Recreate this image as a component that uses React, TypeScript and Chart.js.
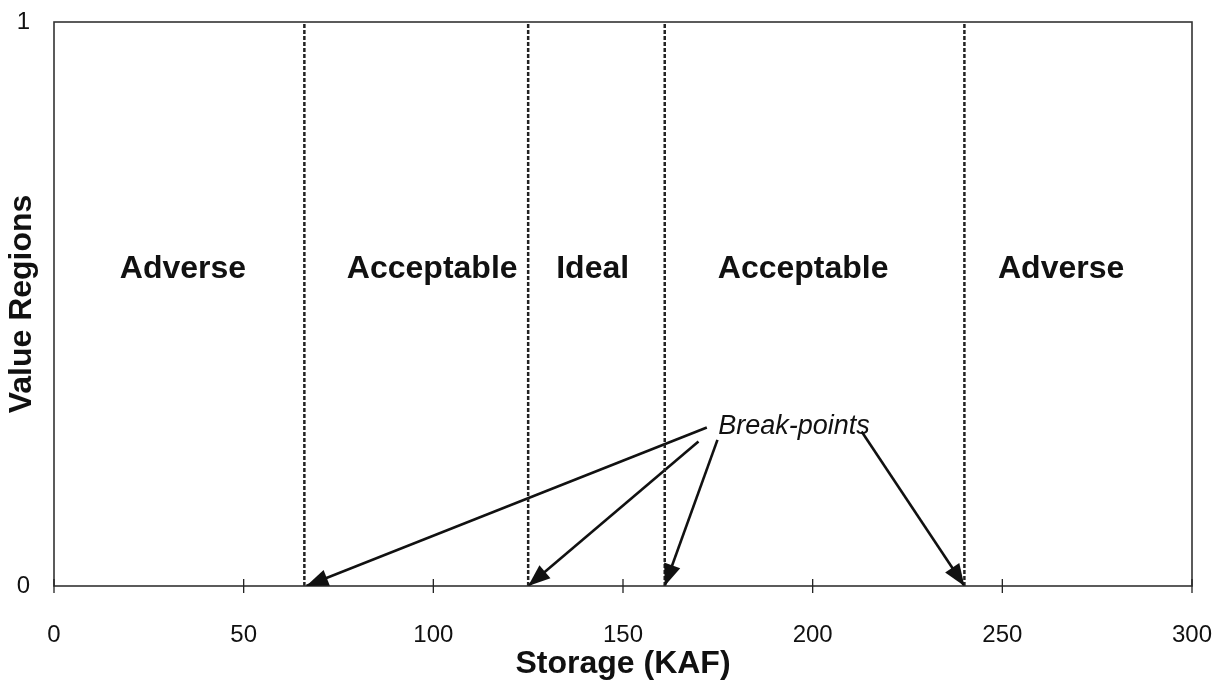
import React, { useEffect, useRef } from "react";
import { Chart, registerables } from "chart.js";

Chart.register(...registerables);

const xTickValues = [0, 50, 100, 150, 200, 250, 300];
const yTickValues = [0, 1];
const breakPoints = [66, 125, 161, 240];
const regionLabels = ["Adverse", "Acceptable", "Ideal", "Acceptable", "Adverse"];
const regionLabelX = [34, 99.7, 142, 197.5, 265.5];
const regionLabelY = [0.562, 0.562, 0.562, 0.562, 0.562];
const arrowStartX = [172.1, 169.9, 174.9, 212.9];
const arrowStartY = [0.281, 0.256, 0.259, 0.274];
const arrowTargetX = [66.5, 125, 161, 240];
const arrowTargetY = [0, 0, 0, 0];
const noteText = "Break-points";
const noteX = 195.1;
const noteY = 0.283;
const xTitle = "Storage (KAF)";
const yTitle = "Value Regions";

const FONT = "'Liberation Sans', Arial, Helvetica, sans-serif";
const INK = "#111";

const overlayPlugin = {
  id: "overlay",
  afterDatasetsDraw(chart: any) {
    const { ctx, chartArea, scales } = chart;
    const xs = scales.x;
    const ys = scales.y;
    ctx.save();
    ctx.strokeStyle = "#333";
    ctx.lineWidth = 1.6;
    ctx.strokeRect(chartArea.left, chartArea.top, chartArea.right - chartArea.left, chartArea.bottom - chartArea.top);
    ctx.strokeStyle = "#222";
    ctx.lineWidth = 1.3;
    xs.ticks.forEach((t: any) => {
      const px = xs.getPixelForValue(t.value);
      ctx.beginPath();
      ctx.moveTo(px, chartArea.bottom - 7);
      ctx.lineTo(px, chartArea.bottom + 7);
      ctx.stroke();
    });
    chart.data.datasets.forEach((ds: any, i: number) => {
      if (ds.role !== "arrow") return;
      const meta = chart.getDatasetMeta(i);
      const p0 = meta.data[0];
      const p1 = meta.data[1];
      const ang = Math.atan2(p1.y - p0.y, p1.x - p0.x);
      const len = 22;
      const hw = 8.5;
      const bx = p1.x - len * Math.cos(ang);
      const by = p1.y - len * Math.sin(ang);
      ctx.fillStyle = INK;
      ctx.beginPath();
      ctx.moveTo(p1.x, p1.y);
      ctx.lineTo(bx + hw * Math.sin(ang), by - hw * Math.cos(ang));
      ctx.lineTo(bx - hw * Math.sin(ang), by + hw * Math.cos(ang));
      ctx.closePath();
      ctx.fill();
    });
    ctx.fillStyle = INK;
    ctx.font = `bold 32px ${FONT}`;
    ctx.textAlign = "center";
    ctx.textBaseline = "middle";
    regionLabels.forEach((lab, i) => {
      ctx.fillText(lab, xs.getPixelForValue(regionLabelX[i]), ys.getPixelForValue(regionLabelY[i]));
    });
    ctx.font = `italic 27px ${FONT}`;
    ctx.fillText(noteText, xs.getPixelForValue(noteX), ys.getPixelForValue(noteY));
    ctx.restore();
  },
};

export default function App() {
  const ref = useRef<HTMLCanvasElement | null>(null);
  useEffect(() => {
    if (!ref.current) return;
    const datasets: any[] = [];
    breakPoints.forEach((b) => {
      datasets.push({
        role: "break",
        data: [
          { x: b, y: 0 },
          { x: b, y: 1 },
        ],
        borderColor: "#222",
        borderWidth: 2.5,
        borderDash: [4, 2],
        pointRadius: 0,
        showLine: true,
        fill: false,
      });
    });
    arrowStartX.forEach((sx, i) => {
      datasets.push({
        role: "arrow",
        data: [
          { x: sx, y: arrowStartY[i] },
          { x: arrowTargetX[i], y: arrowTargetY[i] },
        ],
        borderColor: INK,
        borderWidth: 2.6,
        pointRadius: 0,
        showLine: true,
        fill: false,
      });
    });
    const chart = new Chart(ref.current, {
      type: "scatter",
      data: { datasets },
      plugins: [overlayPlugin],
      options: {
        responsive: false,
        animation: false,
        layout: { padding: { top: 22, right: 29, left: 0, bottom: 0 } },
        plugins: { legend: { display: false }, tooltip: { enabled: false } },
        scales: {
          x: {
            type: "linear",
            min: 0,
            max: 300,
            afterBuildTicks: (scale: any) => {
              scale.ticks = xTickValues.map((v) => ({ value: v }));
            },
            afterFit: (scale: any) => {
              scale.height = 109;
              scale.paddingLeft = 0;
              scale.paddingRight = 0;
            },
            grid: { display: false, drawTicks: false },
            border: { display: false },
            ticks: {
              padding: 35,
              color: INK,
              font: { family: FONT, size: 24 },
              maxRotation: 0,
              autoSkip: false,
            },
            title: {
              display: true,
              text: xTitle,
              color: INK,
              font: { family: FONT, size: 32, weight: "bold" },
              padding: { top: 0, bottom: 12 },
            },
          },
          y: {
            type: "linear",
            min: 0,
            max: 1,
            afterBuildTicks: (scale: any) => {
              scale.ticks = yTickValues.map((v) => ({ value: v }));
            },
            afterFit: (scale: any) => {
              scale.width = 54;
              scale.paddingTop = 0;
              scale.paddingBottom = 0;
            },
            grid: { display: false, drawTicks: false },
            border: { display: false },
            ticks: {
              padding: 24,
              color: INK,
              font: { family: FONT, size: 24 },
              autoSkip: false,
            },
            title: {
              display: true,
              text: yTitle,
              color: INK,
              font: { family: FONT, size: 32, weight: "bold" },
              padding: { top: 3, bottom: 0 },
            },
          },
        },
      } as any,
    });
    return () => chart.destroy();
  }, []);
  return (
    <div style={{ position: "fixed", left: 0, top: 0, width: 1221, height: 695, background: "#fff" }}>
      <canvas ref={ref} width={1221} height={695} style={{ display: "block" }} />
    </div>
  );
}
